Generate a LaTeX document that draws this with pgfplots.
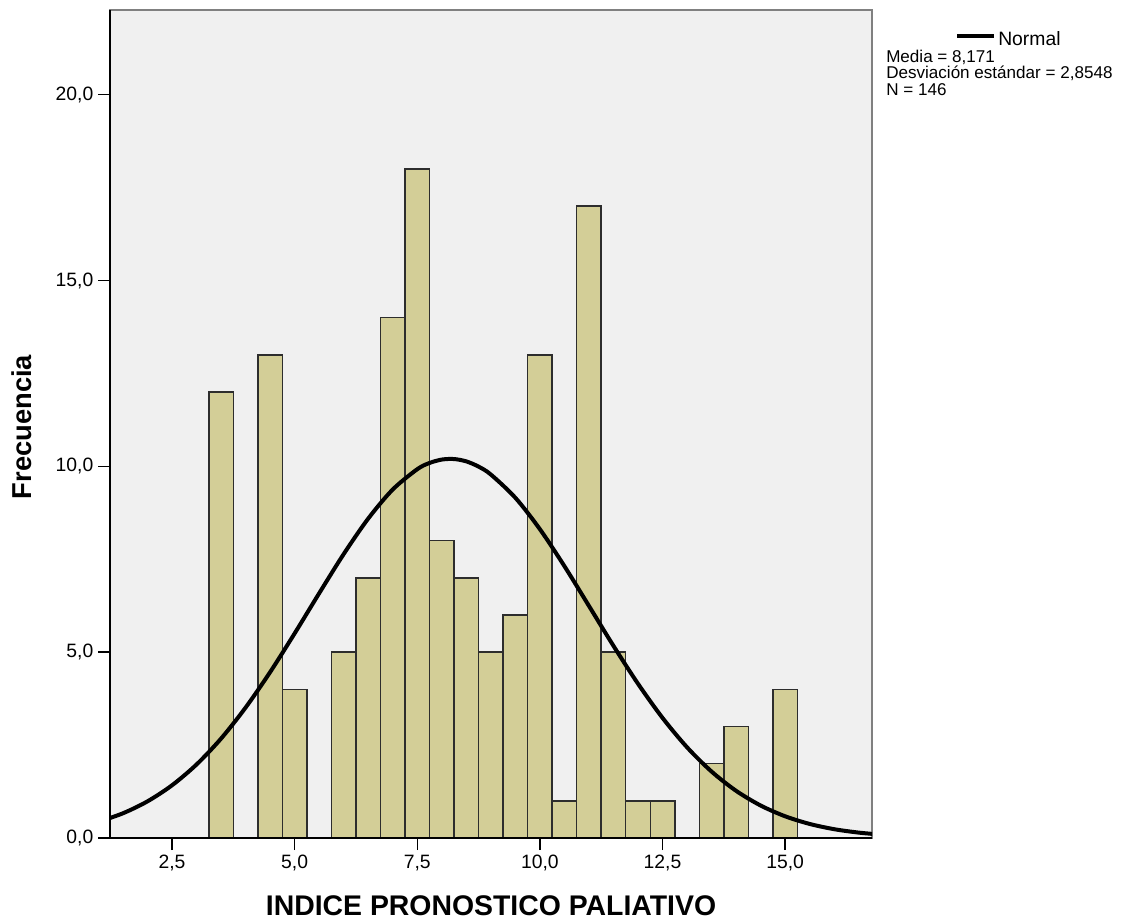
\documentclass[border=0pt]{standalone}
\usepackage{fontspec}
\setmainfont{Liberation Sans}
\usepackage{pgfplots}
\pgfplotsset{compat=1.18}
\definecolor{bgc}{RGB}{240,240,240}
\definecolor{barc}{RGB}{211,206,151}
\definecolor{edgec}{RGB}{45,45,45}
\definecolor{framec}{RGB}{128,128,128}

\begin{document}
\begin{tikzpicture}[x=0.75pt,y=0.75pt]
\useasboundingbox (0,0) rectangle (1127,921);
\begin{axis}[
    at={(82.5pt,62.25pt)}, anchor=south west,
    scale only axis, width=571.5pt, height=621pt,
    xmin=1.236, xmax=16.77, ymin=0, ymax=22.28,
    axis background/.style={fill=bgc},
    axis line style={draw=framec, line width=1.5pt},
    xtick={2.5,5,7.5,10,12.5,15},
    ytick={0,5,10,15,20},
    xtick pos=bottom, ytick pos=left,
    tick align=outside, major tick length=9pt,
    tick style={black, line width=1.1pt},
    ticklabel style={font=\fontsize{14.5}{16}\selectfont},
    /pgf/number format/fixed,
    /pgf/number format/fixed zerofill,
    /pgf/number format/precision=1,
    /pgf/number format/use comma,
    /pgf/number format/assume math mode=true,
]
% frecuencias por intervalo de 0,5
\addplot[ybar, bar width=0.5, fill=barc, draw=edgec, line width=1.1pt] coordinates {
    (3.5,12) (4.5,13) (5.0,4) (6.0,5) (6.5,7) (7.0,14) (7.5,18)
    (8.0,8) (8.5,7) (9.0,5) (9.5,6) (10.0,13) (10.5,1) (11.0,17)
    (11.5,5) (12.0,1) (12.5,1) (13.5,2) (14.0,3) (15.0,4)
};
% curva normal
\addplot[black, line width=3pt, smooth, no marks] coordinates {
    (1.0,0.435) (1.5,0.665) (2.0,0.986) (2.5,1.418) (3.0,1.978)
    (3.5,2.675) (4.0,3.509) (4.5,4.463) (5.0,5.505) (5.5,6.585)
    (6.0,7.640) (6.5,8.595) (7.0,9.378) (7.5,9.924) (7.75,10.091)
    (8.0,10.183) (8.25,10.197) (8.5,10.134) (8.75,9.993) (9.0,9.780)
    (9.5,9.154) (10.0,8.309) (10.5,7.314) (11.0,6.244) (11.5,5.169)
    (12.0,4.150) (12.5,3.231) (13.0,2.440) (13.5,1.787) (14.0,1.269)
    (14.5,0.874) (15.0,0.584) (15.5,0.378) (16.0,0.237) (16.5,0.145)
    (17.0,0.086)
};
\end{axis}
\draw[black, line width=1.5pt] (110,911) -- (110,83) -- (872,83);

\node[rotate=90, font=\bfseries\fontsize{20.5}{22}\selectfont] at (22,494) {Frecuencia};
\node[font=\bfseries\fontsize{21.3}{23}\selectfont] at (491,15) {INDICE PRONOSTICO PALIATIVO};

\draw[black, line width=3pt] (957,885) -- (994,885);
\node[anchor=base west, inner sep=0pt, font=\fontsize{14.5}{16}\selectfont] at (998,875) {Normal};
\node[anchor=base west, inner sep=0pt, font=\fontsize{12.8}{14}\selectfont] at (886,858) {Media = 8,171};
\node[anchor=base west, inner sep=0pt, font=\fontsize{12.8}{14}\selectfont] at (886,842) {Desviación estándar = 2,8548};
\node[anchor=base west, inner sep=0pt, font=\fontsize{12.8}{14}\selectfont] at (886,825) {N = 146};
\end{tikzpicture}
\end{document}
